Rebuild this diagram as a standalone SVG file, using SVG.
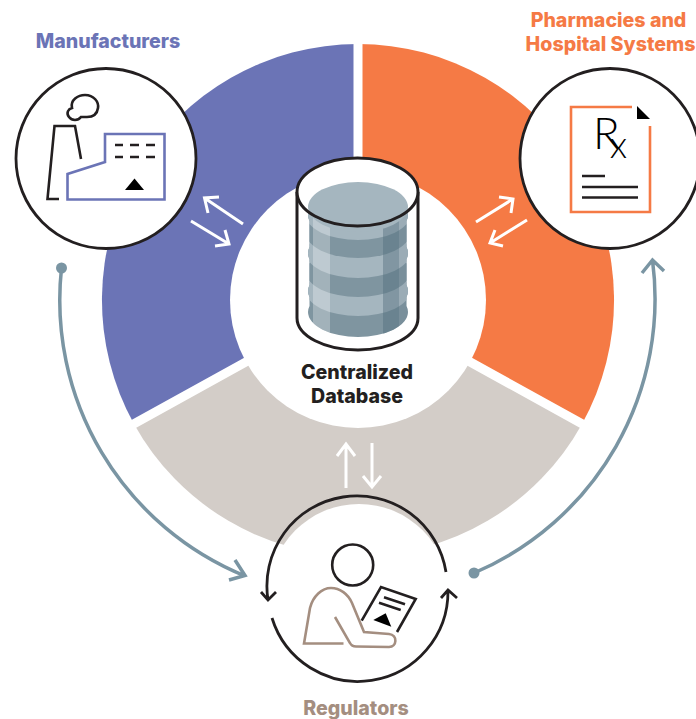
<svg xmlns="http://www.w3.org/2000/svg" width="696" height="719" viewBox="0 0 696 719">
<style>
.lb{font-family:"Inter","Liberation Sans",sans-serif;font-weight:800;text-anchor:middle;font-size:19.600px}
.ring{fill:#fff;stroke:#231f20;stroke-width:2.800}
.k{fill:none;stroke:#231f20;stroke-width:2.600}
.w{fill:none;stroke:#fff;stroke-width:3}
.t{fill:none;stroke:#7a95a3;stroke-width:3.500}
.rx{font-family:"Lato","Liberation Sans",sans-serif;font-weight:300;fill:#000}
</style>
<defs>
<clipPath id="stack">
<rect x="309.500" y="215" width="97" height="97"/>
<ellipse cx="358" cy="312" rx="50" ry="25"/>
<ellipse cx="358" cy="291" rx="50" ry="25"/>
<ellipse cx="358" cy="253" rx="50" ry="25"/>
<ellipse cx="358" cy="215" rx="50" ry="25"/>
</clipPath>
</defs>
<rect width="696" height="719" fill="#fff"/>
<g id="sectors">
<path fill="#6b74b6" d="M358,300 L358,44 A256,256 0 0 0 134,424 Z"/>
<path fill="#f57a45" d="M358,300 L358,44 A256,256 0 0 1 582,424 Z"/>
<path fill="#d3cdc8" d="M358,300 L134,424 A256,256 0 0 0 582,424 Z"/>
<path fill="none" stroke="#fff" stroke-width="9" d="M358,300 V40 M358,300 L130,426 M358,300 L586,426"/>
<circle cx="358" cy="300" r="128" fill="#fff"/>
</g>
<g id="connectors">
<g>
<path class="w" d="M243,224 L204.500,198 M219,197 L204.500,198 L208,213"/>
<path class="w" d="M191,221 L229,244 M215,246 L229,244 L225,230"/>
<path class="w" d="M476,222 L513,199 M499,197 L513,199 L511,213"/>
<path class="w" d="M527,220 L490,243 M503,246 L490,243 L495,230"/>
<path class="w" d="M346,488 V444 M337,456 L346,444 L355,456"/>
<path class="w" d="M372,443 V487 M363,476 L372,487 L381,476"/>
</g>
<circle cx="61.500" cy="268" r="5.500" fill="#7a95a3"/>
<path class="t" d="M61.500,268 A298,298 0 0 0 245,576 M235,560 L245,575.500 L229,580"/>
<circle cx="474" cy="573" r="5.500" fill="#7a95a3"/>
<path class="t" d="M474,573 A298,298 0 0 0 652.500,260 M642,273 L652.500,260 L664,271"/>
</g>
<g id="database">
<path d="M297,192 V318 C297,336 325,350 358,350 C391,350 418,336 418,318 V192" fill="#fff" stroke="#231f20" stroke-width="3"/>
<ellipse cx="358" cy="192" rx="60" ry="34" fill="#fff"/>
<g clip-path="url(#stack)">
<rect x="300" y="200" width="116" height="140" fill="#7f95a0"/>
<ellipse cx="358" cy="291" rx="52" ry="25" fill="#a5b6bf"/>
<ellipse cx="358" cy="272" rx="52" ry="25" fill="#7f95a0"/>
<ellipse cx="358" cy="253" rx="52" ry="25" fill="#a5b6bf"/>
<ellipse cx="358" cy="233" rx="52" ry="25" fill="#7f95a0"/>
<ellipse cx="358" cy="215" rx="52" ry="25" fill="#a5b6bf"/>
<rect x="313" y="205" width="17" height="135" fill="#fff" fill-opacity=".28"/>
<rect x="383" y="205" width="16" height="135" fill="#4f6b7a" fill-opacity=".42"/>
<rect x="399" y="205" width="9" height="135" fill="#4f6b7a" fill-opacity=".12"/>
</g>
<ellipse cx="358" cy="207" rx="50" ry="25" fill="#a5b6bf"/>
<ellipse cx="357.500" cy="192" rx="60.500" ry="34" fill="none" stroke="#231f20" stroke-width="3"/>
<text class="lb" x="357" y="379" fill="#231f20">Centralized</text>
<text class="lb" x="357" y="403" fill="#231f20">Database</text>
</g>
<g id="manufacturers">
<circle class="ring" cx="106" cy="158.500" r="90"/>
<path class="k" d="M72,108 C70,100 78,95 85,95 C94,95 99,102 98,108 C97,115 92,117 87,117 L81,117 C78,121 72,121 69,117 C66,113 68,109 72,108 Z"/>
<path class="k" d="M81,159 L75,126 L54.500,126 L47.500,199 L59,199"/>
<path d="M67.500,199.500 V174 L105,162 V134 H164.500 V199.500 Z" fill="none" stroke="#6b74b6" stroke-width="2.600"/>
<path class="k" d="M115,145 H123 M130,145 H139 M146,145 H155 M115,157 H123 M130,157 H139 M146,157 H155"/>
<path d="M125,190 H144 L134.500,178.500 Z" fill="#000"/>
<text class="lb" x="108" y="47.500" fill="#6b74b6">Manufacturers</text>
</g>
<g id="pharmacies">
<circle class="ring" cx="610" cy="158.500" r="90"/>
<path d="M632,107 H571 V212 H650 V126" fill="none" stroke="#f57a45" stroke-width="2.600"/>
<path d="M637,106 V119 H650 Z" fill="#000"/>
<text class="rx" x="593" y="149"><tspan font-size="44">R</tspan><tspan font-size="37" dx="-10" dy="9">x</tspan></text>
<path class="k" d="M582,176 H605 M582,187 H638 M582,197.500 H638"/>
<text class="lb" x="608.500" y="27" fill="#f57a45">Pharmacies and</text>
<text class="lb" x="610.500" y="51" fill="#f57a45">Hospital Systems</text>
</g>
<g id="regulators">
<circle cx="359" cy="594" r="90" fill="#fff"/>
<path class="ring" style="fill:none" d="M446,572 A90,90 0 0 0 268,600 M261,592 L268,600 L276,592"/>
<path class="ring" style="fill:none" d="M272,618 A90,90 0 0 0 448,591 M441,598 L448,590 L457,598"/>
<circle class="k" cx="352.700" cy="565" r="20.500"/>
<path d="M343.500,643.500 H304 L310,608 C313,596 322,588 331,588 C340,588 348,594 352,603 L364,632 L389,634 C398,635 397,647 389,647 L356,646.500 C353,646.500 351,645 350,643 L335,617" fill="none" stroke="#a48e80" stroke-width="2.600"/>
<path class="k" d="M361.700,620.700 L381,587 L415.700,599 L397,632 M384,597.300 L405,604.300 M379,602.700 L400.700,610"/>
<path d="M373.300,620 L385.700,613.300 L391.300,626.700 Z" fill="#000"/>
<text class="lb" x="356" y="715" fill="#a48e80">Regulators</text>
</g>
</svg>
